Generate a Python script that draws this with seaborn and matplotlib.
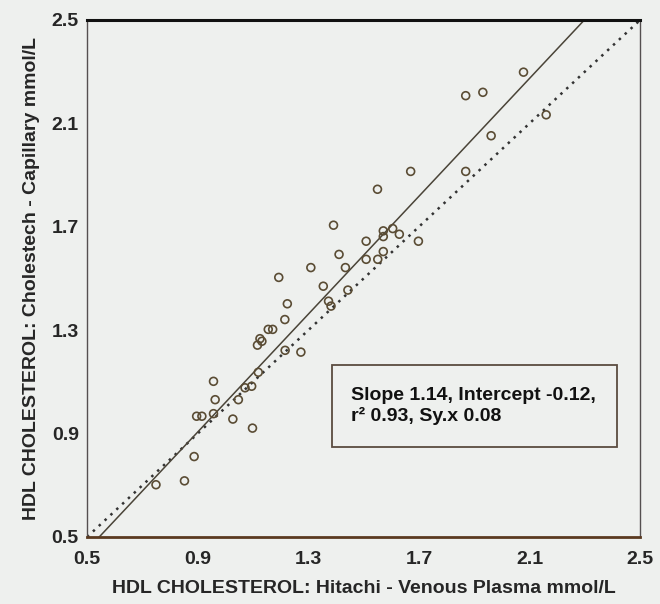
import numpy as np
import pandas as pd
import matplotlib
matplotlib.use("Agg")
import matplotlib.pyplot as plt
import seaborn as sns
from matplotlib.patches import Rectangle

# Data
venous = [0.957, 0.963, 0.896, 0.915, 0.957, 1.027, 1.047, 1.071, 1.095, 1.119,
          1.098, 0.887, 0.852, 0.749, 1.550, 1.391, 1.571, 1.605, 1.571, 1.629,
          1.698, 1.509, 1.411, 1.509, 1.551, 1.571, 1.309, 1.434, 1.193, 1.354,
          1.443, 1.224, 1.373, 1.382, 1.215, 1.155, 1.171, 1.125, 1.132, 1.116,
          1.216, 1.273, 2.078, 1.869, 1.931, 2.160, 1.961, 1.670, 1.869]
capillary = [1.102, 1.031, 0.967, 0.967, 0.977, 0.956, 1.031, 1.077, 1.083, 1.137,
             0.921, 0.811, 0.717, 0.702, 1.845, 1.706, 1.684, 1.693, 1.662, 1.671,
             1.644, 1.644, 1.593, 1.574, 1.574, 1.604, 1.542, 1.542, 1.504, 1.470,
             1.455, 1.402, 1.412, 1.393, 1.341, 1.303, 1.303, 1.267, 1.257, 1.242,
             1.222, 1.215, 2.298, 2.207, 2.220, 2.133, 2.052, 1.914, 1.914]
slope = 1.14
intercept = -0.12
ticks = [0.5, 0.9, 1.3, 1.7, 2.1, 2.5]
tick_labels = ["0.5", "0.9", "1.3", "1.7", "2.1", "2.5"]
stats_text = "Slope 1.14, Intercept -0.12,\nr² 0.93, Sy.x 0.08"
xlabel = "HDL CHOLESTEROL: Hitachi - Venous Plasma mmol/L"
ylabel = "HDL CHOLESTEROL: Cholestech - Capillary mmol/L"

sns.set_theme(style="white")
plt.rcParams['font.family'] = ['Liberation Sans', 'DejaVu Sans']

bg = "#eef0ee"
fig = plt.figure(figsize=(6.6, 6.04), dpi=100, facecolor=bg)
ax = fig.add_axes([0.132, 0.111, 0.838, 0.856])
ax.set_facecolor(bg)

df = pd.DataFrame({"x": venous, "y": capillary})

# identity line (dotted)
lim = np.array([ticks[0], ticks[-1]])
sns.lineplot(x=lim, y=lim, ax=ax, color="#333333", linestyle=(0, (1, 2.2)),
             linewidth=1.8, zorder=2)
# regression line (solid)
xr = np.linspace(ticks[0], ticks[-1], 50)
sns.lineplot(x=xr, y=slope * xr + intercept, ax=ax, color="#4a4438",
             linewidth=1.1, zorder=2)

sns.scatterplot(data=df, x="x", y="y", ax=ax, marker="o", s=32,
                facecolor="none", edgecolor="#5a4c34", linewidth=1.2, zorder=3)

ax.set_xlim(ticks[0], ticks[-1])
ax.set_ylim(ticks[0], ticks[-1])
ax.set_xticks(ticks)
ax.set_yticks(ticks)
ax.set_xticklabels(tick_labels, fontsize=14, fontweight="bold")
ax.set_yticklabels(tick_labels, fontsize=14, fontweight="bold")
ax.tick_params(axis="x", direction="in", length=6, width=1, color="#333333", pad=10)
ax.tick_params(axis="y", direction="out", length=4, width=1, color="#333333", pad=2)
ax.set_xlabel(xlabel, fontsize=14, fontweight="bold", labelpad=9)
ax.set_ylabel(ylabel, fontsize=14, fontweight="bold", labelpad=8)

for side, lw, col in [("top", 2.2, "#111111"), ("bottom", 2.0, "#5a3a20"),
                      ("left", 1.0, "#555050"), ("right", 1.0, "#555050")]:
    ax.spines[side].set_visible(True)
    ax.spines[side].set_linewidth(lw)
    ax.spines[side].set_color(col)

ax.text(1.455, 1.005, stats_text, fontsize=14, fontweight="bold", va="center",
        ha="left", linespacing=1.2, color="#111111", zorder=4)
# framed box around stats
ax.add_patch(Rectangle((1.387, 0.848), 1.03, 0.317, fill=False,
                       edgecolor="#5a4c40", linewidth=1.3, zorder=4))

fig.savefig("out.png", dpi=100, facecolor=bg)
